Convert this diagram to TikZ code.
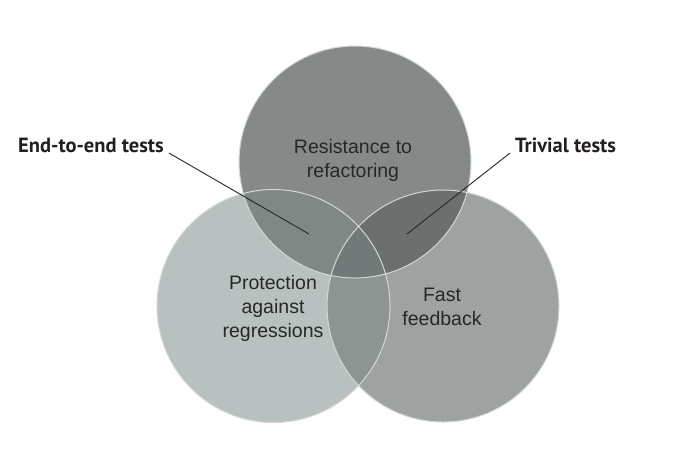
\documentclass[tikz,border=0pt]{standalone}
\usepackage{fontspec}
\setmainfont{Liberation Sans}
\newfontfamily\labelfont{PT Sans}
\usetikzlibrary{calc}
\definecolor{cT}{HTML}{858A89}
\definecolor{cL}{HTML}{B9C1C0}
\definecolor{cR}{HTML}{9EA2A1}
\definecolor{cTL}{HTML}{808886}
\definecolor{cTR}{HTML}{6B706F}
\definecolor{cLR}{HTML}{8D9593}
\definecolor{cTLR}{HTML}{727A79}
\definecolor{rim}{HTML}{D3D7D6}
\definecolor{ink}{HTML}{262828}
\definecolor{labelink}{HTML}{231F20}
\begin{document}
\begin{tikzpicture}[x=1pt,y=-1pt,
  circtext/.style={align=center,text=ink,font=\fontsize{19.5}{24}\selectfont,inner sep=0pt},
  sidelabel/.style={anchor=base west,inner sep=0pt,text=labelink,font=\labelfont\bfseries\fontsize{20.5}{24}\selectfont},
  pointer/.style={draw=ink,line width=0.9pt}]
\useasboundingbox (0,0) rectangle (674,451);
\def\cT{(355,162) circle[radius=116]}
\def\cL{(273.5,306) circle[radius=116.5]}
\def\cR{(443,306) circle[radius=116]}
\fill[cL] \cL;
\fill[cR] \cR;
\fill[cT] \cT;
\begin{scope}\clip \cT; \fill[cTL] \cL; \end{scope}
\begin{scope}\clip \cT; \fill[cTR] \cR; \end{scope}
\begin{scope}\clip \cL; \fill[cLR] \cR; \end{scope}
\begin{scope}\clip \cT; \clip \cL; \fill[cTLR] \cR; \end{scope}
\draw[rim,line width=1pt] \cL \cR \cT;
\node[circtext] (rtr) at (353,160) {Resistance to\\refactoring};
\node[circtext] (par) at (273,308) {Protection\\against\\regressions};
\node[circtext] (ff) at (442,307) {Fast\\feedback};
\node[sidelabel] (e2e) at (18,152) {End-to-end tests};
\node[sidelabel] (triv) at (515,152) {Trivial tests};
\coordinate (e2ep) at (309,234);
\coordinate (trivp) at (407,234);
\draw[pointer] ($(e2e.base east)+(5,1)$) -- (e2ep);
\draw[pointer] ($(triv.base west)+(-5,1)$) -- (trivp);
\end{tikzpicture}
\end{document}
